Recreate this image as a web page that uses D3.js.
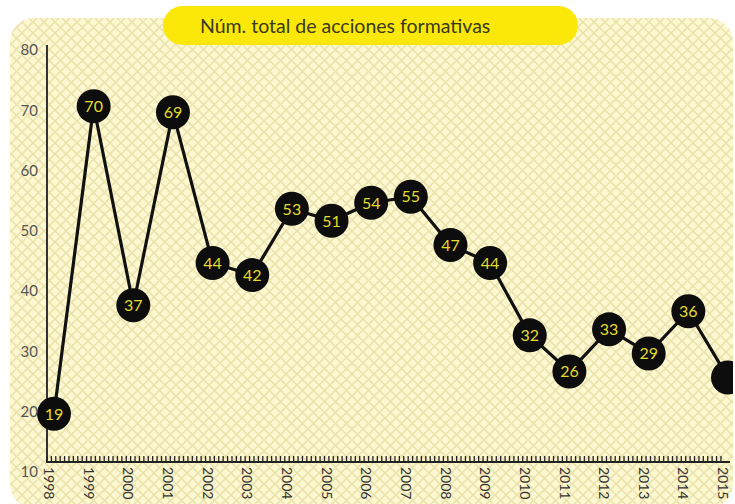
<!DOCTYPE html>
<html><head><meta charset="utf-8">
<script src="https://cdn.jsdelivr.net/npm/d3@7"></script>
<style>html,body{margin:0;padding:0;background:#fff;}svg{display:block;}</style>
</head><body>
<script>
const title = "Núm. total de acciones formativas";
const years = [1998,1999,2000,2001,2002,2003,2004,2005,2006,2007,2008,2009,2010,2011,2012,2013,2014,2015];
const values = [19,70,37,69,44,42,53,51,54,55,47,44,32,26,33,29,36,25];
const valueLabels = ["19","70","37","69","44","42","53","51","54","55","47","44","32","26","33","29","36",""];
const yTicks = [10,20,30,40,50,60,70,80];

const W = 735, H = 504;
const svg = d3.select("body").append("svg").attr("width", W).attr("height", H);
const defs = svg.append("defs");
const P = 11;
const pat = defs.append("pattern").attr("id","hatch").attr("patternUnits","userSpaceOnUse")
  .attr("width",P).attr("height",P);
pat.append("rect").attr("width",P).attr("height",P).attr("fill","#fdf8d0");
pat.append("path").attr("d",`M0,0L${P},${P}M${P},0L0,${P}`).attr("stroke","#e9e2ac").attr("stroke-width",1.5);
const clip = defs.append("clipPath").attr("id","panelClip");
clip.append("rect").attr("x",10).attr("y",18).attr("width",723).attr("height",490).attr("rx",24);

svg.append("rect").attr("x",10).attr("y",18).attr("width",723).attr("height",490).attr("rx",24)
  .attr("fill","url(#hatch)");

const x = d3.scaleLinear().domain([1998, 2015]).range([54, 728]);
const y = d3.scaleLinear().domain([10, 80]).range([468, 46]);
const baseY = 462;

const g = svg.append("g").attr("clip-path","url(#panelClip)");

// y axis labels
svg.append("g").selectAll("text").data(yTicks).join("text")
  .attr("x", 38).attr("y", d => y(d) + 4).attr("dy","0.35em").attr("text-anchor","end")
  .attr("font-family","Lato, 'Open Sans', sans-serif").attr("font-size",15).attr("fill","#555")
  .text(d => d);

// y axis line
g.append("line").attr("x1",47).attr("x2",47).attr("y1",45).attr("y2",baseY)
  .attr("stroke","#333").attr("stroke-width",2);

// x axis baseline + minor ticks
g.append("line").attr("x1",46).attr("x2",x(2015)+2).attr("y1",baseY).attr("y2",baseY)
  .attr("stroke","#222").attr("stroke-width",2);
const minor = d3.range(0, 17*9 + 1).map(i => 1998 - 1/9*1.6 + i/9);
g.append("g").selectAll("line").data(minor).join("line")
  .attr("x1", d => x(d)).attr("x2", d => x(d)).attr("y1", baseY).attr("y2", baseY-6)
  .attr("stroke","#222").attr("stroke-width",1.3);

// year labels rotated
g.append("g").selectAll("text").data(years).join("text")
  .attr("transform", d => `translate(${x(d)-5},${baseY+5}) rotate(90)`)
  .attr("dy","0.35em")
  .attr("font-family","Lato, 'Open Sans', sans-serif").attr("font-size",14).attr("fill","#333")
  .text(d => d);

// line
const line = d3.line().x((d,i) => x(years[i])).y(d => y(d));
g.append("path").datum(values).attr("d", line).attr("fill","none")
  .attr("stroke","#111").attr("stroke-width",3.2).attr("stroke-linejoin","round");

// circles
const pts = g.append("g").selectAll("g").data(values).join("g")
  .attr("transform", (d,i) => `translate(${x(years[i])},${y(d)})`);
pts.append("circle").attr("r",17).attr("fill","#0d0d0d");
pts.append("text").attr("text-anchor","middle").attr("dy","0.36em")
  .attr("font-family","Lato, 'Open Sans', sans-serif").attr("font-size",16).attr("fill","#e3dc2c")
  .text((d,i) => valueLabels[i]);

// title pill
svg.append("rect").attr("x",163).attr("y",6).attr("width",415).attr("height",39).attr("rx",19.5)
  .attr("fill","#fbe809");
svg.append("text").attr("x",200).attr("y",26).attr("dy","0.35em")
  .attr("font-family","Lato, 'Open Sans', sans-serif").attr("font-size",19.5).attr("fill","#38381e")
  .text(title);
</script>
</body></html>
